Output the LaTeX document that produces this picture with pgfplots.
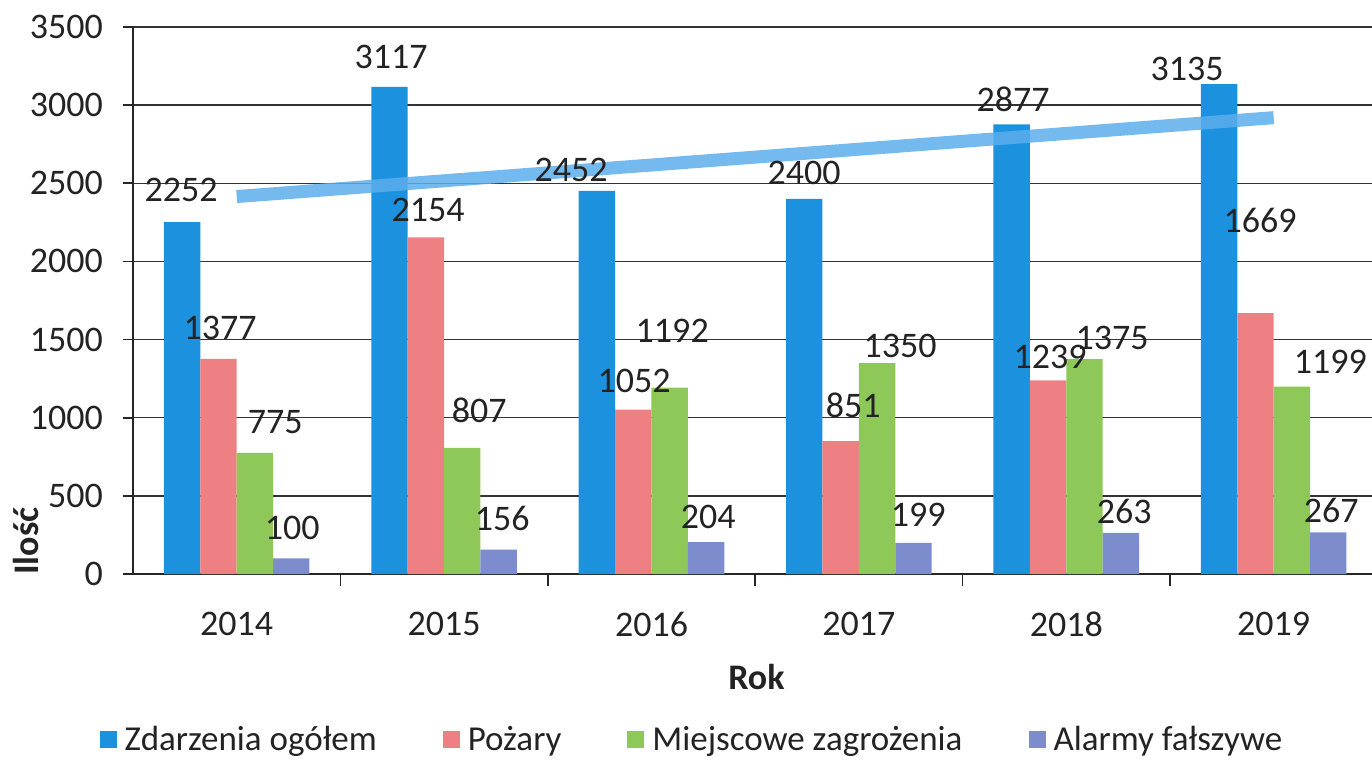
\documentclass[border=0pt]{standalone}
\usepackage{pgfplots}
\pgfplotsset{compat=1.18}
\usepackage{fontspec}
\setmainfont{Carlito}
\definecolor{cblue}{RGB}{28,146,222}
\definecolor{cred}{RGB}{238,128,132}
\definecolor{cgreen}{RGB}{142,200,88}
\definecolor{cpurple}{RGB}{124,140,204}
\definecolor{ctrend}{RGB}{92,174,236}
\definecolor{ctext}{RGB}{35,35,35}
\begin{document}
\begin{tikzpicture}[font=\fontsize{18}{21.6}\selectfont]
\begin{axis}[
  scale only axis, width=622.2pt, height=273.5pt,
  xmin=-0.5, xmax=5.5, ymin=0, ymax=3500,
  clip=false,
  axis lines*=left,
  axis line style={black!85, line width=0.8pt},
  ytick={0,500,1000,1500,2000,2500,3000,3500},
  ymajorgrids, grid style={black!80, line width=0.7pt},
  xtick={0,1,2,3,4,5},
  xticklabels={2014,2015,2016,2017,2018,2019},
  major x tick style={draw=none},
  minor xtick={0.5,1.5,2.5,3.5,4.5},
  minor tick length=6pt,
  tick align=outside, major tick length=5pt,
  tick style={black!85, line width=0.8pt},
  scaled y ticks=false,
  /pgf/number format/assume math mode=true,
  /pgf/number format/1000 sep={},
  ticklabel style={text=ctext},
  xticklabel style={yshift=-10.5pt},
  yticklabel style={xshift=-6.5pt},
  xlabel={\textbf{Rok}}, ylabel={\textbf{Ilość}},
  every axis x label/.style={at={(axis description cs:0.501,-0.188)}, anchor=center, text=ctext},
  every axis y label/.style={at={(axis description cs:-0.086,0.060)}, anchor=center, rotate=90, text=ctext},
  legend style={at={(axis description cs:0.450,-0.303)}, anchor=center, draw=none, fill=none,
    legend columns=4, font=\fontsize{17.5}{20}\selectfont, text=ctext,
    /tikz/every even column/.append style={column sep=31pt}},
  legend image code/.code={\draw[#1,/tikz/.cd,draw=none] (0pt,-4.25pt) rectangle (8.5pt,4.25pt); \path (10.5pt,0pt);},
]
% data labels (drawn behind bars, as in the reference)
\addplot[forget plot, draw=none, nodes near coords, point meta=explicit symbolic,
  every node near coord/.append style={anchor=center, text=ctext, font=\fontsize{18}{21.6}\selectfont}]
  table[meta=l] {
x y l
-0.268 2457 2252
0.745 3308 3117
1.613 2585 2452
2.736 2566 2400
3.744 3039 2877
4.583 3231 3135
-0.080 1574 1377
0.923 2329 2154
1.916 1235 1052
2.973 1081 851
3.922 1388 1239
4.935 2259 1669
0.186 973 775
1.169 1049 807
2.100 1555 1192
3.199 1459 1350
4.221 1510 1375
5.273 1356 1199
0.268 294 100
1.280 358 156
2.274 365 204
3.286 377 199
4.279 403 263
5.277 409 267
};
\addplot[ybar, bar width=18.2pt, bar shift=-27.3pt, fill=cblue, draw=none]
  coordinates {(0,2252) (1,3117) (2,2452) (3,2400) (4,2877) (5,3135)};
\addlegendentry{Zdarzenia ogółem}
\addplot[ybar, bar width=18.2pt, bar shift=-9.1pt, fill=cred, draw=none]
  coordinates {(0,1377) (1,2154) (2,1052) (3,851) (4,1239) (5,1669)};
\addlegendentry{Pożary}
\addplot[ybar, bar width=18.2pt, bar shift=9.1pt, fill=cgreen, draw=none]
  coordinates {(0,775) (1,807) (2,1192) (3,1350) (4,1375) (5,1199)};
\addlegendentry{Miejscowe zagrożenia}
\addplot[ybar, bar width=18.2pt, bar shift=27.3pt, fill=cpurple, draw=none]
  coordinates {(0,100) (1,156) (2,204) (3,199) (4,263) (5,267)};
\addlegendentry{Alarmy fałszywe}
% linear trend of the totals
\addplot[forget plot, line width=6.5pt, color=ctrend, opacity=0.85]
  coordinates {(0,2415) (5,2920)};
\coordinate (O) at (rel axis cs:0,0);
\end{axis}
\pgfresetboundingbox
\path ([shift={(-66.5pt,-93pt)}]O) rectangle ([shift={(619.5pt,287pt)}]O);
\end{tikzpicture}
\end{document}
